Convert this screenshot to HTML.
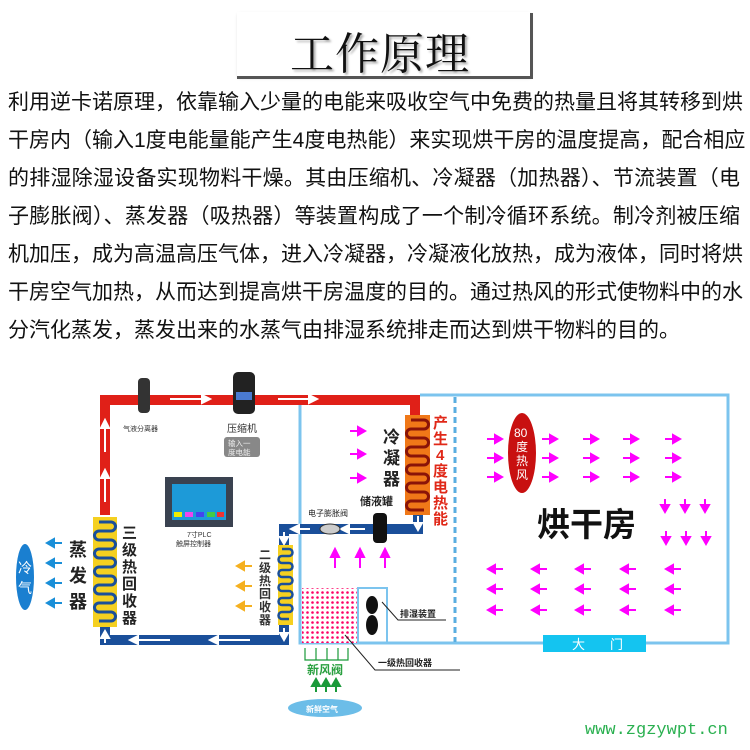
<!DOCTYPE html>
<html><head><meta charset="utf-8"><style>
body{margin:0;width:750px;height:750px;background:#fff;overflow:hidden;position:relative;font-family:"Liberation Sans","Noto Sans CJK SC",sans-serif}
.t{position:absolute;left:8px;width:732px;font-size:21px;line-height:38px;color:#111;text-align:justify;text-align-last:justify;white-space:nowrap}
</style></head><body>
<div style="position:absolute;left:237px;top:12px;width:293px;height:64px;box-shadow:1px 2px 3px #ccc"></div>
<div style="position:absolute;left:237px;top:76px;width:296px;height:3px;background:#555"></div>
<div style="position:absolute;left:530px;top:13px;width:3px;height:66px;background:#555"></div>
<div style="position:absolute;left:290px;top:18px;font-family:'Noto Serif CJK SC',serif;font-size:44px;color:#111;letter-spacing:1px;text-shadow:2px 2px 2px #aaa">工作原理</div>
<div class="t" style="top:84px">利用逆卡诺原理，依靠输入少量的电能来吸收空气中免费的热量且将其转移到烘</div>
<div class="t" style="top:122px">干房内（输入1度电能量能产生4度电热能）来实现烘干房的温度提高，配合相应</div>
<div class="t" style="top:160px">的排湿除湿设备实现物料干燥。其由压缩机、冷凝器（加热器）、节流装置（电</div>
<div class="t" style="top:198px">子膨胀阀）、蒸发器（吸热器）等装置构成了一个制冷循环系统。制冷剂被压缩</div>
<div class="t" style="top:236px">机加压，成为高温高压气体，进入冷凝器，冷凝液化放热，成为液体，同时将烘</div>
<div class="t" style="top:274px">干房空气加热，从而达到提高烘干房温度的目的。通过热风的形式使物料中的水</div>
<div class="t" style="top:312px;width:656px">分汽化蒸发，蒸发出来的水蒸气由排湿系统排走而达到烘干物料的目的。</div>

<svg style="position:absolute;left:0;top:0" width="750" height="750" font-family="Liberation Sans,Noto Sans CJK SC,sans-serif">
<defs>
<pattern id="dots" width="5" height="5" patternUnits="userSpaceOnUse"><rect width="5" height="5" fill="#fff"/><circle cx="2.5" cy="2.5" r="1.3" fill="#f06"/></pattern>
</defs>
<path d="M420 395 H728 V643 H300 V403" fill="none" stroke="#7cc4ee" stroke-width="3"/>
<line x1="455" y1="397" x2="455" y2="642" stroke="#5aaee0" stroke-width="3" stroke-dasharray="6,4"/>
<rect x="543" y="635" width="103" height="17" fill="#14c4f0"/>
<text x="572" y="649" font-size="13" fill="#fff">大</text><text x="610" y="649" font-size="13" fill="#fff">门</text>
<path d="M105 515 V400 H415 V415" fill="none" stroke="#e02018" stroke-width="10"/>
<g stroke="#fff" stroke-width="2" fill="#fff">
<line x1="105" y1="452" x2="105" y2="425"/><path d="M101 428 L105 420 L109 428Z"/>
<line x1="105" y1="502" x2="105" y2="475"/><path d="M101 478 L105 470 L109 478Z"/>
<line x1="170" y1="399" x2="205" y2="399"/><path d="M202 395 L210 399 L202 403Z"/>
<line x1="278" y1="399" x2="312" y2="399"/><path d="M309 395 L317 399 L309 403Z"/>
</g>
<path d="M418 515 V529 H284 V545 M284 625 V640 H105 V627" fill="none" stroke="#1a4f9a" stroke-width="10"/>
<g stroke="#fff" stroke-width="2" fill="#fff">
<line x1="365" y1="529" x2="346" y2="529"/><path d="M349 525 L341 529 L349 533Z"/>
<line x1="310" y1="529" x2="296" y2="529"/><path d="M299 525 L291 529 L299 533Z"/>
<line x1="418" y1="516" x2="418" y2="526"/><path d="M414 523 L418 530 L422 523Z"/>
<line x1="284" y1="532" x2="284" y2="540"/><path d="M280 537 L284 544 L288 537Z"/>
<line x1="284" y1="628" x2="284" y2="636"/><path d="M280 633 L284 640 L288 633Z"/>
<line x1="170" y1="640" x2="135" y2="640"/><path d="M138 636 L130 640 L138 644Z"/>
<line x1="250" y1="640" x2="215" y2="640"/><path d="M218 636 L210 640 L218 644Z"/>
<line x1="105" y1="643" x2="105" y2="635"/><path d="M101 638 L105 631 L109 638Z"/>
</g>
<rect x="93" y="517" width="24" height="110" fill="#f5d020"/>
<path d="M99 522 h12 a4.5 4.5 0 0 1 0 9 h-12 a4.5 4.5 0 0 0 0 9 h12 a4.5 4.5 0 0 1 0 9 h-12 a4.5 4.5 0 0 0 0 9 h12 a4.5 4.5 0 0 1 0 9 h-12 a4.5 4.5 0 0 0 0 9 h12 a4.5 4.5 0 0 1 0 9 h-12 a4.5 4.5 0 0 0 0 9 h12 a4.5 4.5 0 0 1 0 9 h-12 a4.5 4.5 0 0 0 0 9 h12 a4.5 4.5 0 0 1 0 9 h-12" fill="none" stroke="#1a4f9a" stroke-width="3"/>
<rect x="278" y="545" width="15" height="80" fill="#f5d020"/>
<path d="M282 549 h7 a3.5 3.5 0 0 1 0 7 h-7 a3.5 3.5 0 0 0 0 7 h7 a3.5 3.5 0 0 1 0 7 h-7 a3.5 3.5 0 0 0 0 7 h7 a3.5 3.5 0 0 1 0 7 h-7 a3.5 3.5 0 0 0 0 7 h7 a3.5 3.5 0 0 1 0 7 h-7 a3.5 3.5 0 0 0 0 7 h7 a3.5 3.5 0 0 1 0 7 h-7 a3.5 3.5 0 0 0 0 7 h7" fill="none" stroke="#1a4f9a" stroke-width="2.5"/>
<rect x="405" y="415" width="25" height="100" fill="#f07818"/>
<path d="M411 420 h13 a4.5 4.5 0 0 1 0 9 h-13 a4.5 4.5 0 0 0 0 9 h13 a4.5 4.5 0 0 1 0 9 h-13 a4.5 4.5 0 0 0 0 9 h13 a4.5 4.5 0 0 1 0 9 h-13 a4.5 4.5 0 0 0 0 9 h13 a4.5 4.5 0 0 1 0 9 h-13 a4.5 4.5 0 0 0 0 9 h13 a4.5 4.5 0 0 1 0 9 h-13 a4.5 4.5 0 0 0 0 9 h13" fill="none" stroke="#8a1408" stroke-width="3"/>
<rect x="233" y="372" width="22" height="42" rx="5" fill="#222"/><rect x="236" y="392" width="16" height="8" fill="#4a7ad0"/>
<rect x="138" y="378" width="12" height="35" rx="4" fill="#333"/>
<text x="123" y="431" font-size="7" fill="#333">气液分离器</text>
<text x="227" y="432" font-size="10" fill="#333">压缩机</text>
<rect x="224" y="437" width="36" height="20" rx="3" fill="#888"/>
<text x="228" y="446" font-size="7.5" fill="#eee">输入一</text><text x="228" y="455" font-size="7.5" fill="#eee">度电能</text>
<rect x="165" y="477" width="68" height="50" fill="#3a4250"/><rect x="172" y="484" width="54" height="36" fill="#1d9ad8"/>
<rect x="174" y="512" width="8" height="5" fill="#ee0"/><rect x="185" y="512" width="8" height="5" fill="#e4e"/><rect x="196" y="512" width="8" height="5" fill="#44e"/><rect x="207" y="512" width="8" height="5" fill="#4c4"/><rect x="217" y="512" width="7" height="5" fill="#e33"/>
<text x="187" y="537" font-size="7" fill="#333">7寸PLC</text><text x="176" y="546" font-size="7" fill="#333">触屏控制器</text>
<ellipse cx="25" cy="577" rx="9" ry="33" fill="#1a7fd0"/>
<text x="18" y="573" font-size="14" fill="#fff">冷</text><text x="18" y="593" font-size="14" fill="#fff">气</text>
<g stroke="#1a8fd8" stroke-width="2" fill="#1a8fd8">
<line x1="62" y1="543" x2="52" y2="543"/><path d="M54 539 L47 543 L54 547Z"/>
<line x1="62" y1="563" x2="52" y2="563"/><path d="M54 559 L47 563 L54 567Z"/>
<line x1="62" y1="583" x2="52" y2="583"/><path d="M54 579 L47 583 L54 587Z"/>
<line x1="62" y1="603" x2="52" y2="603"/><path d="M54 599 L47 603 L54 607Z"/>
</g>
<g font-size="18" fill="#222" font-weight="bold"><text x="69" y="556">蒸</text><text x="69" y="582">发</text><text x="69" y="608">器</text></g>
<g font-size="15" fill="#222" font-weight="bold"><text x="122" y="538">三</text><text x="122" y="555">级</text><text x="122" y="572">热</text><text x="122" y="589">回</text><text x="122" y="606">收</text><text x="122" y="623">器</text></g>
<g stroke="#f5b020" stroke-width="2" fill="#f5b020">
<line x1="252" y1="566" x2="242" y2="566"/><path d="M244 562 L237 566 L244 570Z"/>
<line x1="252" y1="586" x2="242" y2="586"/><path d="M244 582 L237 586 L244 590Z"/>
<line x1="252" y1="606" x2="242" y2="606"/><path d="M244 602 L237 606 L244 610Z"/>
</g>
<g font-size="12" fill="#333" font-weight="bold"><text x="259" y="559">二</text><text x="259" y="572">级</text><text x="259" y="585">热</text><text x="259" y="598">回</text><text x="259" y="611">收</text><text x="259" y="624">器</text></g>
<g stroke="#f0f" stroke-width="2" fill="#f0f">
<line x1="350" y1="431" x2="360" y2="431"/><path d="M358 427 L365 431 L358 435Z"/>
<line x1="350" y1="454" x2="360" y2="454"/><path d="M358 450 L365 454 L358 458Z"/>
<line x1="350" y1="478" x2="360" y2="478"/><path d="M358 474 L365 478 L358 482Z"/>
<line x1="335" y1="568" x2="335" y2="555"/><path d="M331 557 L335 549 L339 557Z"/>
<line x1="360" y1="568" x2="360" y2="555"/><path d="M356 557 L360 549 L364 557Z"/>
<line x1="385" y1="568" x2="385" y2="555"/><path d="M381 557 L385 549 L389 557Z"/>
</g>
<g font-size="17" fill="#222" font-weight="bold"><text x="383" y="443">冷</text><text x="383" y="464">凝</text><text x="383" y="485">器</text></g>
<g font-size="15" fill="#e02818" font-weight="bold"><text x="433" y="428">产</text><text x="433" y="444">生</text><text x="436" y="460">4</text><text x="433" y="476">度</text><text x="433" y="492">电</text><text x="433" y="508">热</text><text x="433" y="524">能</text></g>
<text x="360" y="505" font-size="11" fill="#222" font-weight="bold">储液罐</text>
<rect x="373" y="513" width="14" height="30" rx="4" fill="#111"/>
<text x="308" y="516" font-size="8" fill="#222">电子膨胀阀</text>
<ellipse cx="330" cy="529" rx="10" ry="5" fill="#ccc" stroke="#333"/>
<rect x="302" y="588" width="56" height="55" fill="url(#dots)"/>
<rect x="358" y="588" width="29" height="55" fill="none" stroke="#7cc4ee" stroke-width="2"/>
<ellipse cx="372" cy="605" rx="6" ry="9" fill="#111"/><ellipse cx="372" cy="625" rx="6" ry="10" fill="#111"/>
<path d="M382 602 L398 620 H446" fill="none" stroke="#222" stroke-width="1"/>
<text x="400" y="617" font-size="9" fill="#222" font-weight="bold">排湿装置</text>
<path d="M345 635 L375 670 H460" fill="none" stroke="#222" stroke-width="1"/>
<text x="378" y="666" font-size="9" fill="#222" font-weight="bold">一级热回收器</text>
<path d="M305 648 V660 H348 V648 M316 648 V660 M327 648 V660 M338 648 V660" fill="none" stroke="#1a9a3a" stroke-width="1.2"/>
<text x="307" y="674" font-size="12" fill="#2aa040" font-weight="bold">新风阀</text>
<g stroke="#1a9a3a" stroke-width="2" fill="#1a9a3a">
<line x1="316" y1="692" x2="316" y2="684"/><path d="M312 686 L316 679 L320 686Z"/>
<line x1="326" y1="692" x2="326" y2="684"/><path d="M322 686 L326 679 L330 686Z"/>
<line x1="336" y1="692" x2="336" y2="684"/><path d="M332 686 L336 679 L340 686Z"/>
</g>
<ellipse cx="325" cy="708" rx="37" ry="9" fill="#6cbde8"/>
<text x="306" y="712" font-size="8" fill="#fff" font-weight="bold">新鲜空气</text>
<ellipse cx="522" cy="453" rx="14" ry="40" fill="#c81010"/>
<g font-size="12" fill="#fff"><text x="514" y="437">80</text><text x="516" y="451">度</text><text x="516" y="465">热</text><text x="516" y="479">风</text></g>
<g stroke="#f0f" stroke-width="2" fill="#f0f">
<path d="M487 439 h10 M487 458 h10 M487 477 h10 M542 439 h10 M542 458 h10 M542 477 h10 M583 439 h10 M583 458 h10 M583 477 h10 M623 439 h10 M623 458 h10 M623 477 h10 M665 439 h10 M665 458 h10 M665 477 h10"/>
<path d="M495 435 l7 4 l-7 4Z M495 454 l7 4 l-7 4Z M495 473 l7 4 l-7 4Z M550 435 l7 4 l-7 4Z M550 454 l7 4 l-7 4Z M550 473 l7 4 l-7 4Z M591 435 l7 4 l-7 4Z M591 454 l7 4 l-7 4Z M591 473 l7 4 l-7 4Z M631 435 l7 4 l-7 4Z M631 454 l7 4 l-7 4Z M631 473 l7 4 l-7 4Z M673 435 l7 4 l-7 4Z M673 454 l7 4 l-7 4Z M673 473 l7 4 l-7 4Z"/>
<path d="M665 499 v8 M685 499 v8 M705 499 v8 M666 531 v8 M686 531 v8 M706 531 v8"/>
<path d="M661 505 l4 7 l4 -7Z M681 505 l4 7 l4 -7Z M701 505 l4 7 l4 -7Z M662 537 l4 7 l4 -7Z M682 537 l4 7 l4 -7Z M702 537 l4 7 l4 -7Z"/>
<path d="M493 569 h10 M493 589 h10 M493 610 h10 M537 569 h10 M537 589 h10 M537 610 h10 M581 569 h10 M581 589 h10 M581 610 h10 M626 569 h10 M626 589 h10 M626 610 h10 M671 569 h10 M671 589 h10 M671 610 h10"/>
<path d="M495 565 l-7 4 l7 4Z M495 585 l-7 4 l7 4Z M495 606 l-7 4 l7 4Z M539 565 l-7 4 l7 4Z M539 585 l-7 4 l7 4Z M539 606 l-7 4 l7 4Z M583 565 l-7 4 l7 4Z M583 585 l-7 4 l7 4Z M583 606 l-7 4 l7 4Z M628 565 l-7 4 l7 4Z M628 585 l-7 4 l7 4Z M628 606 l-7 4 l7 4Z M673 565 l-7 4 l7 4Z M673 585 l-7 4 l7 4Z M673 606 l-7 4 l7 4Z"/>
</g>
<text x="537" y="536" font-size="33" font-weight="bold" fill="#111">烘干房</text>
<text x="585" y="734" font-size="17" fill="#2ab050" font-family="Liberation Mono,monospace">www.zgzywpt.cn</text>
</svg>
</body></html>
